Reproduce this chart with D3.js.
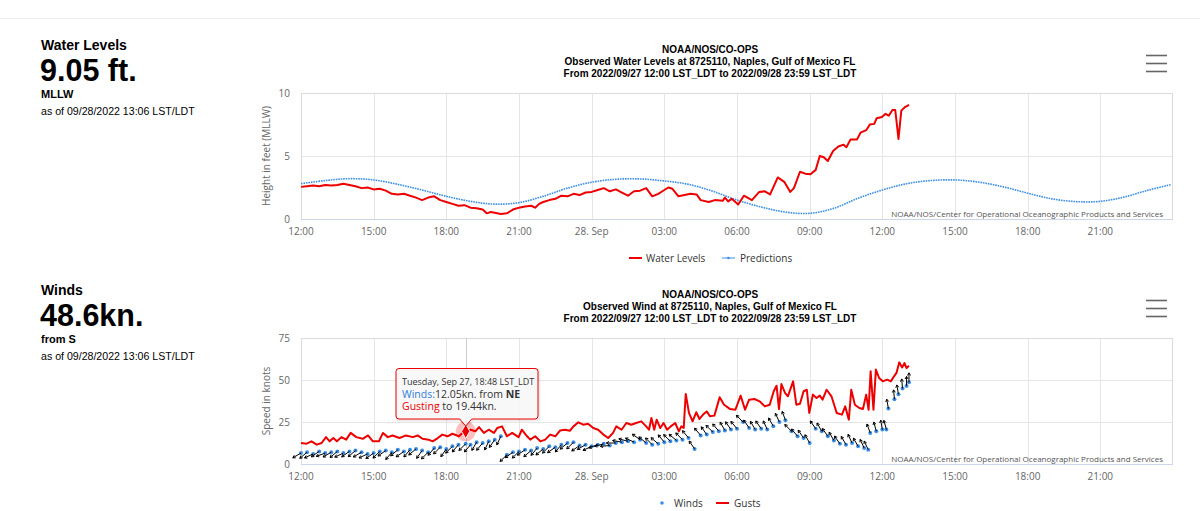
<!DOCTYPE html>
<html><head><meta charset="utf-8">
<script src="https://cdn.jsdelivr.net/npm/d3@7"></script>
<style>
body{margin:0;background:#fff;}
svg{display:block;}
</style></head><body>
<svg id="c" width="1200" height="511"></svg>
<script>
// ---------- DATA ----------
const xTickLabels = ["12:00","15:00","18:00","21:00","28. Sep","03:00","06:00","09:00","12:00","15:00","18:00","21:00"];
const wlTicks = [0, 5, 10];
const windTicks = [0, 25, 50, 75];

const wlTimes = ["09/27 12:00","09/27 12:15","09/27 12:30","09/27 12:45","09/27 13:00","09/27 13:15","09/27 13:30","09/27 13:45","09/27 14:00","09/27 14:15","09/27 14:30","09/27 14:45","09/27 15:00","09/27 15:15","09/27 15:30","09/27 15:45","09/27 16:00","09/27 16:15","09/27 16:30","09/27 16:45","09/27 17:00","09/27 17:15","09/27 17:30","09/27 17:45","09/27 18:00","09/27 18:15","09/27 18:30","09/27 18:45","09/27 19:00","09/27 19:15","09/27 19:30","09/27 19:40","09/27 19:50","09/27 20:00","09/27 20:15","09/27 20:30","09/27 20:45","09/27 21:00","09/27 21:15","09/27 21:30","09/27 21:40","09/27 21:50","09/27 22:00","09/27 22:15","09/27 22:30","09/27 22:45","09/27 23:00","09/27 23:15","09/27 23:30","09/27 23:45","09/28 00:00","09/28 00:15","09/28 00:30","09/28 00:45","09/28 01:00","09/28 01:15","09/28 01:30","09/28 01:45","09/28 02:00","09/28 02:15","09/28 02:30","09/28 02:45","09/28 03:00","09/28 03:10","09/28 03:20","09/28 03:35","09/28 03:50","09/28 04:05","09/28 04:20","09/28 04:30","09/28 04:50","09/28 05:05","09/28 05:25","09/28 05:30","09/28 05:38","09/28 05:47","09/28 06:03","09/28 06:17","09/28 06:37","09/28 06:55","09/28 07:09","09/28 07:22","09/28 07:41","09/28 07:57","09/28 08:12","09/28 08:21","09/28 08:36","09/28 08:49","09/28 09:02","09/28 09:15","09/28 09:25","09/28 09:35","09/28 09:45","09/28 09:58","09/28 10:11","09/28 10:24","09/28 10:31","09/28 10:41","09/28 10:57","09/28 11:06","09/28 11:20","09/28 11:29","09/28 11:40","09/28 11:46","09/28 11:59","09/28 12:08","09/28 12:16","09/28 12:25","09/28 12:32","09/28 12:40","09/28 12:47","09/28 12:55","09/28 13:06"];
const wlValues = [2.55,2.6,2.65,2.6,2.7,2.65,2.7,2.8,2.7,2.6,2.45,2.5,2.35,2.4,2.25,2.0,1.95,2.0,1.85,1.7,1.5,1.7,1.8,1.5,1.35,1.2,1.05,1.1,0.9,0.85,0.75,0.45,0.55,0.5,0.4,0.45,0.75,0.9,1.0,1.05,0.9,1.2,1.35,1.5,1.6,1.85,1.8,2.0,1.9,2.1,2.15,2.3,2.45,2.2,2.35,2.1,1.85,2.2,2.25,2.45,1.8,2.0,2.3,2.5,2.4,1.8,1.9,2.0,1.95,1.5,1.35,1.5,1.45,1.7,1.4,1.6,1.15,1.85,1.5,2.15,2.2,1.95,3.3,2.95,2.15,2.45,3.75,3.6,3.55,3.9,5.0,4.9,4.6,5.4,5.75,5.9,5.7,6.3,6.3,6.85,7.05,7.5,7.55,8.0,8.1,8.35,8.2,8.65,8.65,6.35,8.6,8.85,9.05];

const predTimes = ["09/27 12:00","09/27 13:00","09/27 14:00","09/27 15:00","09/27 16:00","09/27 17:00","09/27 18:00","09/27 19:00","09/27 20:00","09/27 21:00","09/27 22:00","09/27 23:00","09/28 00:00","09/28 01:00","09/28 02:00","09/28 03:00","09/28 04:00","09/28 05:00","09/28 06:00","09/28 07:00","09/28 08:00","09/28 09:00","09/28 10:00","09/28 11:00","09/28 12:00","09/28 13:00","09/28 14:00","09/28 15:00","09/28 16:00","09/28 17:00","09/28 18:00","09/28 19:00","09/28 20:00","09/28 21:00","09/28 22:00","09/28 23:00","09/28 23:54"];
const predValues = [2.8,3.05,3.2,3.1,2.75,2.3,1.8,1.4,1.18,1.3,1.8,2.45,2.92,3.15,3.18,3.02,2.75,2.2,1.5,0.95,0.55,0.45,0.85,1.65,2.3,2.8,3.05,3.1,2.92,2.55,2.05,1.6,1.38,1.4,1.75,2.3,2.72];

const gustTimes = ["09/27 12:00","09/27 12:14","09/27 12:26","09/27 12:39","09/27 12:51","09/27 13:02","09/27 13:11","09/27 13:20","09/27 13:29","09/27 13:40","09/27 13:52","09/27 14:03","09/27 14:17","09/27 14:33","09/27 14:46","09/27 14:58","09/27 15:13","09/27 15:23","09/27 15:35","09/27 15:47","09/27 16:04","09/27 16:20","09/27 16:37","09/27 16:49","09/27 17:01","09/27 17:16","09/27 17:26","09/27 17:38","09/27 17:50","09/27 18:03","09/27 18:15","09/27 18:31","09/27 18:40","09/27 18:48","09/27 19:00","09/27 19:12","09/27 19:21","09/27 19:33","09/27 19:45","09/27 19:58","09/27 20:06","09/27 20:18","09/27 20:30","09/27 20:43","09/27 20:59","09/27 21:07","09/27 21:20","09/27 21:28","09/27 21:40","09/27 21:53","09/27 22:05","09/27 22:17","09/27 22:30","09/27 22:42","09/27 22:54","09/27 23:06","09/27 23:15","09/27 23:27","09/27 23:39","09/27 23:51","09/28 00:04","09/28 00:16","09/28 00:29","09/28 00:41","09/28 00:53","09/28 01:01","09/28 01:14","09/28 01:26","09/28 01:38","09/28 01:50","09/28 02:03","09/28 02:15","09/28 02:22","09/28 02:28","09/28 02:35","09/28 02:41","09/28 02:50","09/28 02:58","09/28 03:07","09/28 03:16","09/28 03:27","09/28 03:36","09/28 03:42","09/28 03:48","09/28 03:53","09/28 04:01","09/28 04:10","09/28 04:19","09/28 04:27","09/28 04:36","09/28 04:45","09/28 04:53","09/28 05:04","09/28 05:17","09/28 05:28","09/28 05:43","09/28 05:56","09/28 06:09","09/28 06:20","09/28 06:30","09/28 06:43","09/28 06:56","09/28 07:09","09/28 07:21","09/28 07:31","09/28 07:38","09/28 07:44","09/28 07:50","09/28 07:59","09/28 08:06","09/28 08:19","09/28 08:27","09/28 08:36","09/28 08:45","09/28 08:53","09/28 08:59","09/28 09:08","09/28 09:17","09/28 09:25","09/28 09:32","09/28 09:42","09/28 09:54","09/28 10:07","09/28 10:20","09/28 10:28","09/28 10:37","09/28 10:43","09/28 10:52","09/28 11:03","09/28 11:12","09/28 11:20","09/28 11:26","09/28 11:31","09/28 11:38","09/28 11:44","09/28 11:52","09/28 12:01","09/28 12:12","09/28 12:21","09/28 12:29","09/28 12:35","09/28 12:42","09/28 12:49","09/28 12:55","09/28 13:00","09/28 13:06"];
const gustValues = [12.5,12.1,13.5,11.5,12.5,16,13.5,15.5,13.5,16,14.5,18.5,16,15,17,13.5,13.5,18.5,16,17,15.5,17,16,17,15,14.5,13.5,15.3,17.5,16.5,18,16.5,18.5,19.44,20.4,19.5,22,18.5,20.4,18.5,21.4,22.4,16.5,18.5,16,20.4,16.5,14.5,16.5,13.5,14.5,17.5,16.5,20,20.4,19.8,22.4,24.8,23.4,24,21.4,20.4,17.5,15.5,18.5,22.4,20.4,24.4,23.4,24.4,25.4,22.4,20.4,27.4,20.4,26.4,21.4,24.4,20.4,22.4,24.4,19.4,22.4,21.4,41.7,30.4,25.4,30.8,26.8,29.4,31.3,28.4,28.8,39.7,35.3,32.7,32.3,40.7,32.3,38.3,38.7,37.3,34.3,35.3,43.3,46.6,32.7,47.6,42.3,40.3,49.2,35.3,35.9,43.3,44.2,30.4,41.3,39.3,40.7,38.3,44.2,40.3,30.4,29.4,34.3,26.4,44.2,35.3,33.3,32.7,41.3,32.3,55.2,32.3,56.2,51.2,49.2,50.2,49.2,52.2,54.2,60.5,57.5,60.1,57.1,58.5];

const windTimes = ["09/27 12:00","09/27 12:15","09/27 12:30","09/27 12:45","09/27 13:00","09/27 13:15","09/27 13:30","09/27 13:45","09/27 14:00","09/27 14:15","09/27 14:30","09/27 14:45","09/27 15:00","09/27 15:15","09/27 15:30","09/27 15:45","09/27 16:00","09/27 16:15","09/27 16:30","09/27 16:45","09/27 17:00","09/27 17:15","09/27 17:30","09/27 17:45","09/27 18:00","09/27 18:15","09/27 18:30","09/27 18:48","09/27 19:00","09/27 19:15","09/27 19:30","09/27 19:45","09/27 20:00","09/27 20:15","09/27 20:30","09/27 20:45","09/27 21:00","09/27 21:15","09/27 21:30","09/27 21:45","09/27 22:00","09/27 22:15","09/27 22:30","09/27 22:45","09/27 23:00","09/27 23:15","09/27 23:30","09/27 23:45","09/28 00:00","09/28 00:15","09/28 00:30","09/28 00:45","09/28 01:00","09/28 01:15","09/28 01:30","09/28 01:45","09/28 02:00","09/28 02:15","09/28 02:30","09/28 02:45","09/28 03:00","09/28 03:15","09/28 03:30","09/28 03:45","09/28 04:00","09/28 04:15","09/28 04:30","09/28 04:45","09/28 05:00","09/28 05:15","09/28 05:30","09/28 05:45","09/28 06:00","09/28 06:15","09/28 06:30","09/28 06:45","09/28 07:00","09/28 07:15","09/28 07:30","09/28 07:45","09/28 08:00","09/28 08:15","09/28 08:30","09/28 08:45","09/28 09:00","09/28 09:15","09/28 09:30","09/28 09:45","09/28 10:00","09/28 10:15","09/28 10:30","09/28 10:45","09/28 11:00","09/28 11:15","09/28 11:25","09/28 11:30","09/28 11:45","09/28 12:00","09/28 12:10","09/28 12:15","09/28 12:30","09/28 12:40","09/28 12:50","09/28 13:00","09/28 13:06"];
const windSpeeds = [6.5,7.0,6.0,7.5,6.5,7.0,7.5,6.5,7.5,8.0,7.0,6.0,6.5,7.5,8.0,7.0,8.5,7.5,8.5,9.0,8.0,7.0,9.5,10.0,9.0,10.5,11.5,12.05,11.5,13.0,12.5,13.5,14.5,16.5,5.5,7.0,7.5,8.5,8.0,9.5,9.0,10.5,10.0,11.5,12.5,13.0,11.0,11.5,10.5,11.5,12.0,11.0,12.5,13.0,13.5,13.0,14.5,12.5,11.5,12.0,13.0,13.5,14.0,14.5,15.5,9.0,17.0,17.5,19.0,19.5,20.0,20.5,21.0,25.0,21.5,20.5,21.0,20.5,22.5,25.0,26.0,19.5,16.5,15.5,12.5,21.0,19.5,16.5,14.0,12.0,11.5,12.5,10.5,9.5,8.5,18.5,19.5,20.5,20.5,33.0,38.5,41.5,45.0,46.5,48.6];
const windDirs = [60,50,65,55,70,60,50,65,55,50,60,65,55,45,55,40,50,55,40,50,35,45,40,45,35,45,40,45,40,30,40,25,35,25,45,55,45,55,50,40,50,45,55,40,50,45,55,60,65,70,75,85,90,100,105,115,125,130,135,130,140,135,130,135,140,145,140,145,135,140,150,145,140,135,145,150,145,155,150,155,160,135,140,145,150,145,150,145,150,145,150,155,150,155,155,160,165,170,165,170,175,170,175,180,180];

// ---------- LAYOUT ----------
const svg = d3.select("#c");
const parse = d3.timeParse("%m/%d %H:%M");
const t0 = parse("09/27 12:00"), t1 = parse("09/29 00:00");
const X0 = 301, X1 = 1173;
const x = d3.scaleTime().domain([t0, t1]).range([X0, X1]);
const xTicks = d3.timeHour.every(3).range(t0, t1);
const labelFont = "'Open Sans', sans-serif";
const RED = "#ee0000", BLUE = "#3d8fe6";

svg.append("line").attr("x1",0).attr("x2",1200).attr("y1",18.5).attr("y2",18.5).attr("stroke","#ececec");

function sidePanel(y0, title, big, sub, asof) {
  const g = svg.append("g").attr("font-family","'Liberation Sans', Arial, sans-serif").attr("fill","#000");
  g.append("text").attr("x",41).attr("y",y0).attr("font-size",14).attr("font-weight","bold").text(title);
  g.append("text").attr("x",40).attr("y",y0+30.5).attr("font-size",30.5).attr("font-weight","bold").text(big);
  g.append("text").attr("x",41).attr("y",y0+48).attr("font-size",11).attr("font-weight","bold").text(sub);
  g.append("text").attr("x",41).attr("y",y0+64.5).attr("font-size",10.6).text(asof);
}
sidePanel(50, "Water Levels", "9.05 ft.", "MLLW", "as of 09/28/2022 13:06 LST/LDT");
sidePanel(295, "Winds", "48.6kn.", "from S", "as of 09/28/2022 13:06 LST/LDT");

function titles(y0, lines) {
  const g = svg.append("g").attr("font-family","'Liberation Sans', Arial, sans-serif").attr("font-weight","bold")
    .attr("font-size",10).attr("fill","#000").attr("text-anchor","middle");
  lines.forEach((l,i)=> g.append("text").attr("x",710).attr("y",y0+i*12.3).text(l));
}
titles(52.5, ["NOAA/NOS/CO-OPS","Observed Water Levels at 8725110, Naples, Gulf of Mexico FL","From 2022/09/27 12:00 LST_LDT to 2022/09/28 23:59 LST_LDT"]);
titles(297.5, ["NOAA/NOS/CO-OPS","Observed Wind at 8725110, Naples, Gulf of Mexico FL","From 2022/09/27 12:00 LST_LDT to 2022/09/28 23:59 LST_LDT"]);

function burger(y0) {
  [0,8,16].forEach(d => svg.append("line").attr("x1",1146).attr("x2",1167)
    .attr("y1",y0+d).attr("y2",y0+d).attr("stroke","#666").attr("stroke-width",1.6));
}
burger(55.5); burger(300.5);

function frame(y, ticks, axisTitle) {
  const [yb, yt] = y.range();
  const g = svg.append("g");
  g.selectAll(".vg").data(xTicks).join("line")
    .attr("x1",d=>Math.round(x(d))+0.5).attr("x2",d=>Math.round(x(d))+0.5)
    .attr("y1",yt).attr("y2",yb).attr("stroke","#e6e6e6");
  g.selectAll(".hg").data(ticks).join("line")
    .attr("x1",X0).attr("x2",X1).attr("y1",d=>Math.round(y(d))+0.5).attr("y2",d=>Math.round(y(d))+0.5)
    .attr("stroke","#e6e6e6");
  g.append("rect").attr("x",X0+0.5).attr("y",yt+0.5).attr("width",X1-X0-1).attr("height",yb-yt)
    .attr("fill","none").attr("stroke","#dcdcdc");
  g.append("line").attr("x1",X0).attr("x2",X1).attr("y1",yb+0.5).attr("y2",yb+0.5).attr("stroke","#ccd6eb");
  g.selectAll(".yl").data(ticks).join("text")
    .attr("x",290).attr("y",d=>y(d)).attr("dy","0.35em").attr("text-anchor","end")
    .attr("font-family",labelFont).attr("font-size",10).attr("fill","#666").text(d=>d);
  g.selectAll(".xl").data(xTicks).join("text")
    .attr("x",d=>x(d)).attr("y",yb+12.7).attr("dy","0.35em").attr("text-anchor","middle")
    .attr("font-family",labelFont).attr("font-size",10).attr("fill","#666").text((d,i)=>xTickLabels[i]);
  g.append("text").attr("transform",`translate(266,${(yb+yt)/2}) rotate(-90)`).attr("dy","0.35em")
    .attr("text-anchor","middle").attr("font-family",labelFont).attr("font-size",10).attr("fill","#666").text(axisTitle);
  return g;
}
function credits(y) {
  svg.append("text").attr("x",1163).attr("y",y).attr("text-anchor","end").attr("font-family",labelFont)
    .attr("font-size",8).attr("fill","#555").text("NOAA/NOS/Center for Operational Oceanographic Products and Services");
}

// ---------- WATER LEVEL CHART ----------
const y1 = d3.scaleLinear().domain([0,10]).range([219,93]);
frame(y1, wlTicks, "Height in feet (MLLW)");
const predData = predTimes.map((t,i)=>({t:parse(t), v:predValues[i]}));
const wlData = wlTimes.map((t,i)=>({t:parse(t), v:wlValues[i]}));
svg.append("path").datum(predData)
  .attr("d", d3.line().x(d=>x(d.t)).y(d=>y1(d.v)).curve(d3.curveCatmullRom))
  .attr("fill","none").attr("stroke",BLUE).attr("stroke-width",1.6).attr("stroke-dasharray","1.6,0.9");
svg.append("path").datum(wlData)
  .attr("d", d3.line().x(d=>x(d.t)).y(d=>y1(d.v)))
  .attr("fill","none").attr("stroke",RED).attr("stroke-width",2).attr("stroke-linejoin","round");
credits(217);

svg.append("line").attr("x1",629).attr("x2",642).attr("y1",258).attr("y2",258).attr("stroke",RED).attr("stroke-width",2);
svg.append("text").attr("x",646).attr("y",258).attr("dy","0.35em").attr("font-family",labelFont).attr("font-size",10).attr("fill","#333").text("Water Levels");
svg.append("line").attr("x1",722).attr("x2",735).attr("y1",258).attr("y2",258).attr("stroke",BLUE).attr("stroke-width",1);
svg.append("circle").attr("cx",728.5).attr("cy",258).attr("r",1.3).attr("fill",BLUE);
svg.append("text").attr("x",740).attr("y",258).attr("dy","0.35em").attr("font-family",labelFont).attr("font-size",10).attr("fill","#333").text("Predictions");

// ---------- WIND CHART ----------
const y2 = d3.scaleLinear().domain([0,75]).range([464,338]);
frame(y2, windTicks, "Speed in knots");
const hoverT = parse("09/27 18:48");
svg.append("line").attr("x1",Math.round(x(hoverT))+0.5).attr("x2",Math.round(x(hoverT))+0.5)
  .attr("y1",338).attr("y2",464).attr("stroke","#cccccc");

const gustData = gustTimes.map((t,i)=>({t:parse(t), v:gustValues[i]}));
svg.append("path").datum(gustData)
  .attr("d", d3.line().x(d=>x(d.t)).y(d=>y2(d.v)))
  .attr("fill","none").attr("stroke",RED).attr("stroke-width",2).attr("stroke-linejoin","round");

const windData = windTimes.map((t,i)=>({t:parse(t), v:windSpeeds[i], dir:windDirs[i]}));
svg.append("g").selectAll("circle").data(windData).join("circle")
  .attr("cx",d=>x(d.t)).attr("cy",d=>y2(d.v)).attr("r",2).attr("fill",BLUE);
const L = 9.5, H = 3;
svg.append("g").selectAll("path").data(windData).join("path")
  .attr("d", d => {
    const px = x(d.t), py = y2(d.v);
    const a = (d.dir + 180) * Math.PI/180;
    const ux = Math.sin(a), uy = -Math.cos(a);
    const tx = px + ux*L, ty = py + uy*L;
    const b1 = a + Math.PI*5/6, b2 = a - Math.PI*5/6;
    return `M${px},${py}L${tx},${ty}M${tx + Math.sin(b1)*H},${ty - Math.cos(b1)*H}L${tx},${ty}L${tx + Math.sin(b2)*H},${ty - Math.cos(b2)*H}`;
  })
  .attr("fill","none").attr("stroke","#000").attr("stroke-width",1);
credits(462);

const hx = x(hoverT), hy = y2(19.44);
svg.append("circle").attr("cx",hx).attr("cy",hy).attr("r",10).attr("fill",RED).attr("opacity",0.25);
svg.append("path").attr("transform",`translate(${hx},${hy})`).attr("d",d3.symbol(d3.symbolDiamond,60)())
  .attr("fill",RED).attr("stroke","#fff").attr("stroke-width",1);

const tb = {x:396, y:368.5, w:142, h:50.5};
const tip = svg.append("g");
const pth = `M${tb.x+3},${tb.y}H${tb.x+tb.w-3}Q${tb.x+tb.w},${tb.y} ${tb.x+tb.w},${tb.y+3}V${tb.y+tb.h-3}Q${tb.x+tb.w},${tb.y+tb.h} ${tb.x+tb.w-3},${tb.y+tb.h}H${hx+6}L${hx},${tb.y+tb.h+7}L${hx-6},${tb.y+tb.h}H${tb.x+3}Q${tb.x},${tb.y+tb.h} ${tb.x},${tb.y+tb.h-3}V${tb.y+3}Q${tb.x},${tb.y} ${tb.x+3},${tb.y}Z`;
tip.append("path").attr("d",pth).attr("transform","translate(1,1)").attr("fill","none").attr("stroke","#000").attr("stroke-opacity",0.08).attr("stroke-width",3);
tip.append("path").attr("d",pth).attr("fill","#f7f7f7").attr("fill-opacity",0.9).attr("stroke",RED).attr("stroke-width",1);
const tt = tip.append("text").attr("font-family",labelFont).attr("fill","#333");
tt.append("tspan").attr("x",402).attr("y",384.5).attr("font-size",9).text("Tuesday, Sep 27, 18:48 LST_LDT");
const l2 = tt.append("tspan").attr("x",402).attr("y",397.5).attr("font-size",10.5);
l2.append("tspan").attr("fill","#2f7ed8").text("Winds:");
l2.append("tspan").text("12.05kn.");
l2.append("tspan").text(" from ");
l2.append("tspan").attr("font-weight","bold").text("NE");
const l3 = tt.append("tspan").attr("x",402).attr("y",410).attr("font-size",10.5);
l3.append("tspan").attr("fill",RED).text("Gusting");
l3.append("tspan").text(" to ");
l3.append("tspan").text("19.44kn.");

svg.append("circle").attr("cx",662).attr("cy",503).attr("r",1.8).attr("fill",BLUE);
svg.append("text").attr("x",674).attr("y",503).attr("dy","0.35em").attr("font-family",labelFont).attr("font-size",10).attr("fill","#333").text("Winds");
svg.append("line").attr("x1",716).attr("x2",729).attr("y1",503).attr("y2",503).attr("stroke",RED).attr("stroke-width",2);
svg.append("text").attr("x",734).attr("y",503).attr("dy","0.35em").attr("font-family",labelFont).attr("font-size",10).attr("fill","#333").text("Gusts");
</script>
</body></html>
